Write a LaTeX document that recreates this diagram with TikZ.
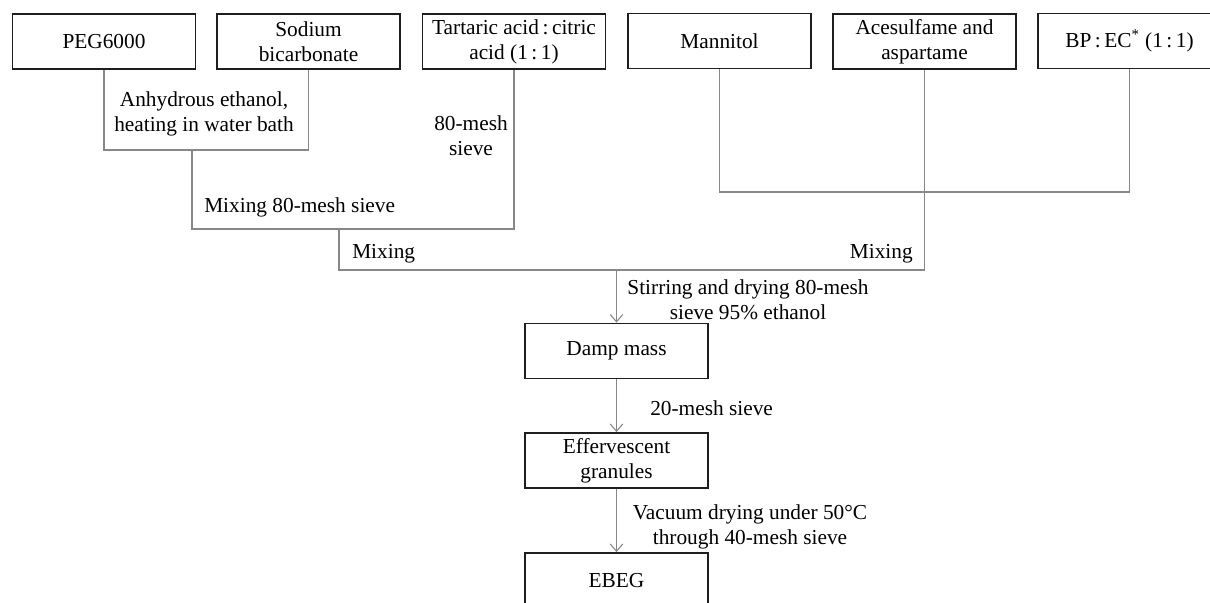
\documentclass[tikz,border=0pt]{standalone}
\usepackage{fontspec}
\setmainfont{Liberation Serif}
\usetikzlibrary{arrows.meta}
\definecolor{linegray}{RGB}{135,135,135}
\definecolor{boxline}{RGB}{30,30,30}
\begin{document}
\begin{tikzpicture}[x=0.75pt,y=-0.75pt,
  font=\fontsize{16pt}{18.8pt}\selectfont,
  box/.style={draw=boxline, line width=1.1pt, minimum width=137.5pt, minimum height=41.5pt, align=center, inner sep=1pt},
  conn/.style={draw=linegray, line width=0.9pt},
  arr/.style={conn, -{Straight Barb[length=5.5pt,width=9.5pt,line width=0.8pt]}},
  lbl/.style={align=center, inner sep=0pt}]
\useasboundingbox (0,0) rectangle (1210,603);
\clip (0,0) rectangle (1210,603);
% top row boxes
\node[box] (peg)  at (104,41.5)    {PEG6000};
\node[box] (soda) at (308.5,41.5)  {Sodium\\bicarbonate};
\node[box] (tart) at (514,41.5)    {Tartaric acid\,:\,citric\\acid (1\,:\,1)};
\node[box] (mann) at (719.5,41)    {Mannitol};
\node[box] (aces) at (924.5,41.5)  {Acesulfame and\\aspartame};
\node[box] (bpec) at (1129.5,41)   {BP\,:\,EC\textsuperscript{*}~(1\,:\,1)};
% lower boxes
\node[box] (damp) at (616.5,351)   {Damp mass};
\node[box] (eff)  at (616.5,460.5) {Effervescent\\granules};
\node[box] (ebeg) at (616.5,580.5) {EBEG};
% junctions
\coordinate (j1) at (192,150);
\coordinate (j2) at (192,229);
\coordinate (j3) at (339,229);
\coordinate (j4) at (339,270);
\coordinate (j5) at (616.5,270);
\coordinate (j6) at (924.5,192);
% connectors
\draw[conn] (peg.south) |- (j1) -| (soda.south);
\draw[conn] (j1) -- (j2) -| (tart.south);
\draw[conn] (j3) -- (j4) -| (aces.south);
\draw[conn] (mann.south) |- (j6) -| (bpec.south);
\draw[arr] (j5) -- (damp.north);
\draw[arr] (damp.south) -- (eff.north);
\draw[arr] (eff.south) -- (ebeg.north);
% labels
\node[lbl] (l1) at (204,114) {Anhydrous ethanol,\\heating in water bath};
\node[lbl] (l2) at (471,136) {80-mesh\\sieve};
\node[lbl, anchor=base west] (l3) at (204,212) {Mixing 80-mesh sieve};
\node[lbl, anchor=base west] (l4) at (352,258) {Mixing};
\node[lbl, anchor=base east] (l5) at (913,258) {Mixing};
\node[lbl] (l6) at (748,300) {Stirring and drying 80-mesh\\sieve 95\% ethanol};
\node[lbl, anchor=base west] (l7) at (650,415) {20-mesh sieve};
\node[lbl] (l8) at (750,527) {Vacuum drying under 50°C\\through 40-mesh sieve};
\end{tikzpicture}
\end{document}
